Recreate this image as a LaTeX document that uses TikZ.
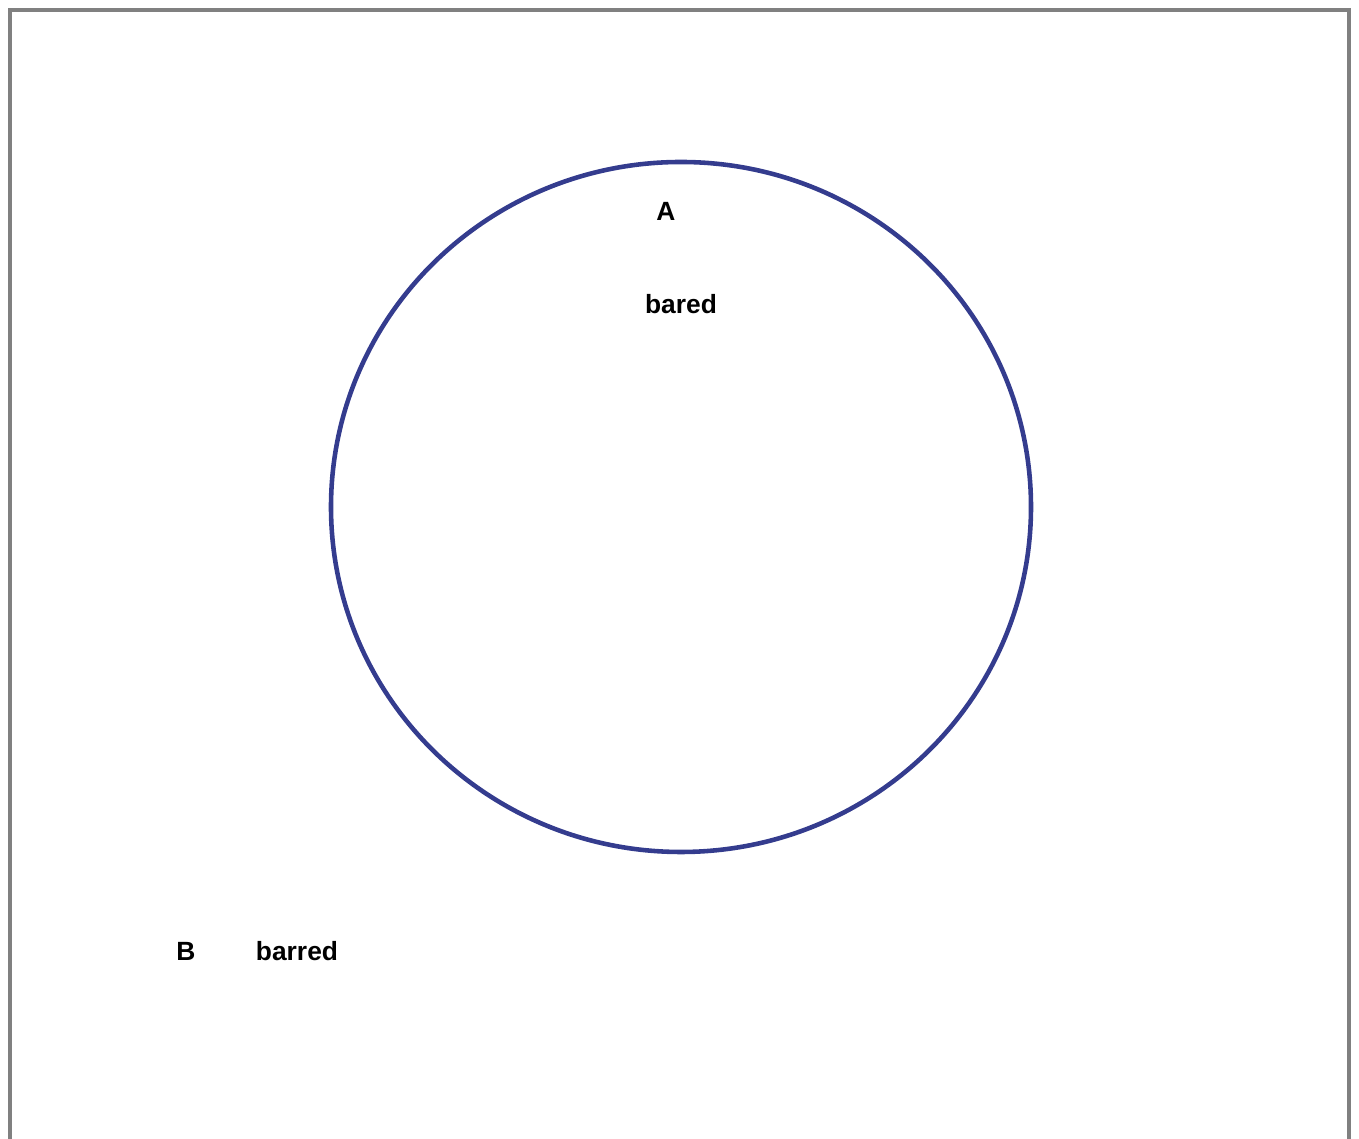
\documentclass[tikz,border=0pt]{standalone}
\usepackage{fontspec}
\setmainfont{Liberation Sans}
\usetikzlibrary{positioning}
\definecolor{ring}{HTML}{343C8E}
\definecolor{frame}{HTML}{808080}

\begin{document}
\begin{tikzpicture}
\useasboundingbox (0,0) rectangle (27.18,22.78);
\draw[frame,line width=2.8pt] (0.2,-0.5) rectangle (26.98,22.58);
\draw[ring,line width=2.6pt] (13.62,12.64) ellipse [x radius=7.0,y radius=6.9];
\node (a) at (13.32,18.56) {\fontsize{15}{18}\selectfont\bfseries A};
\node (bared) at (13.62,16.7) {\fontsize{15}{18}\selectfont\bfseries bared};
\node (b) at (3.72,3.76) {\fontsize{15}{18}\selectfont\bfseries B};
\node (barred) at (5.94,3.76) {\fontsize{15}{18}\selectfont\bfseries barred};
\end{tikzpicture}
\end{document}
